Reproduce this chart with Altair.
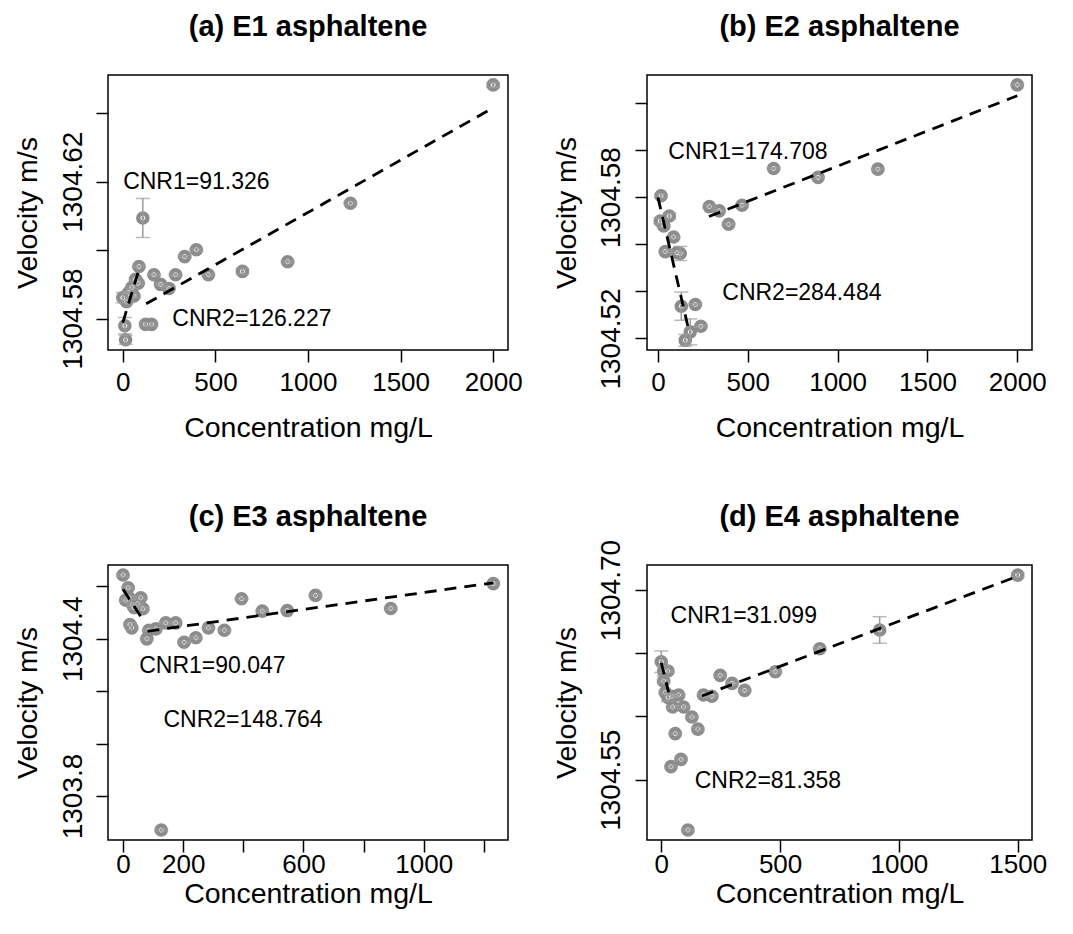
import json
import altair as alt
import pandas as pd

FONT = "Liberation Sans"
PT_COLOR = "#8c8c8c"
ERR_COLOR = "#9c9c9c"

# ---------------- Panel (a) E1 ----------------
A_TITLE = "(a) E1 asphaltene"
A_X = [0, 20, 42, 60, 50, 32, 69, 83, 87, 108, 11, 15, 123, 155, 168, 204, 249, 285, 334, 397, 462, 646, 890, 1229, 2000]
A_Y = [1304.5861, 1304.5849, 1304.5869, 1304.5866, 1304.5891, 1304.5876, 1304.5915, 1304.5903, 1304.5952,
       1304.6094, 1304.5779, 1304.5738, 1304.5783, 1304.5783, 1304.5928, 1304.5900, 1304.5888, 1304.5928,
       1304.5981, 1304.6001, 1304.5928, 1304.5938, 1304.5966, 1304.6137, 1304.6483]
A_ERR = [0.0015, 0.0004, 0.0006, 0.0004, 0.0004, 0.0003, 0.0004, 0.0003, 0.0003,
         0.0057, 0.0024, 0.0013, 0.0005, 0.0005, 0.0003, 0.0003, 0.0003, 0.0003,
         0.0003, 0.0004, 0.0003, 0.0008, 0.0003, 0.0004, 0.0007]
A_FIT1_X = [0, 91]
A_FIT1_Y = [1304.5788, 1304.5950]
A_FIT2_X = [126, 2000]
A_FIT2_Y = [1304.5843, 1304.6416]
A_NOTES = ["CNR1=91.326", "CNR2=126.227"]
A_NOTE_X = [397, 697]
A_NOTE_Y = [1304.6198, 1304.5798]
A_XDOM = [-80, 2080]
A_YDOM = [1304.5708, 1304.6512]
A_XTICKS = [0, 500, 1000, 1500, 2000]
A_XLABELS = ["0", "500", "1000", "1500", "2000"]
A_YTICKS = [1304.58, 1304.60, 1304.62, 1304.64]
A_YLABELS = ["1304.58", "1304.62"]

# ---------------- Panel (b) E2 ----------------
B_TITLE = "(b) E2 asphaltene"
B_X = [17, 13, 32, 63, 41, 87, 106, 124, 130, 208, 152, 180, 239, 286, 341, 393, 468, 644, 891, 1224, 2000]
B_Y = [1304.5806, 1304.5699, 1304.5678, 1304.5720, 1304.5569, 1304.5631, 1304.5564, 1304.5561, 1304.5337,
       1304.5344, 1304.5192, 1304.5228, 1304.5252, 1304.5760, 1304.5742, 1304.5685, 1304.5766, 1304.5922,
       1304.5884, 1304.5919, 1304.6277]
B_ERR = [0.0008, 0.0012, 0.0006, 0.0012, 0.0005, 0.0005, 0.0004, 0.0030, 0.0060,
         0.0005, 0.0025, 0.0055, 0.0004, 0.0005, 0.0004, 0.0004, 0.0004, 0.0004,
         0.0004, 0.0004, 0.0004]
B_FIT1_X = [0, 175]
B_FIT1_Y = [1304.5799, 1304.5224]
B_FIT2_X = [284, 2000]
B_FIT2_Y = [1304.5718, 1304.6231]
B_NOTES = ["CNR1=174.708", "CNR2=284.484"]
B_NOTE_X = [501, 801]
B_NOTE_Y = [1304.5993, 1304.5394]
B_XDOM = [-61, 2082]
B_YDOM = [1304.5151, 1304.6319]
B_XTICKS = [0, 500, 1000, 1500, 2000]
B_XLABELS = ["0", "500", "1000", "1500", "2000"]
B_YTICKS = [1304.52, 1304.54, 1304.56, 1304.58, 1304.60, 1304.62]
B_YLABELS = ["1304.52", "1304.58"]

# ---------------- Panel (c) E3 ----------------
C_TITLE = "(c) E3 asphaltene"
C_X = [0, 17, 9, 20, 31, 37, 59, 48, 66, 23, 29, 79, 86, 109, 142, 175, 203, 242, 284, 337, 394, 463, 546, 640, 890, 1231, 127]
C_Y = [1304.644, 1304.595, 1304.548, 1304.557, 1304.531, 1304.519, 1304.557, 1304.534, 1304.515, 1304.455,
       1304.442, 1304.400, 1304.433, 1304.438, 1304.461, 1304.461, 1304.387, 1304.404, 1304.442, 1304.433,
       1304.553, 1304.506, 1304.508, 1304.566, 1304.516, 1304.611, 1303.670]
C_ERR = [0.005, 0.005, 0.005, 0.005, 0.005, 0.005, 0.005, 0.005, 0.005, 0.006,
         0.006, 0.004, 0.004, 0.004, 0.004, 0.004, 0.004, 0.004, 0.004, 0.004,
         0.004, 0.004, 0.004, 0.004, 0.004, 0.004, 0.004]
C_FIT1_X = [0, 62]
C_FIT1_Y = [1304.589, 1304.480]
C_FIT2_X = [81, 1231]
C_FIT2_Y = [1304.429, 1304.614]
C_NOTES = ["CNR1=90.047", "CNR2=148.764"]
C_NOTE_X = [297, 399]
C_NOTE_Y = [1304.2954, 1304.0912]
C_XDOM = [-50, 1280]
C_YDOM = [1303.632, 1304.682]
C_XTICKS = [0, 200, 400, 600, 800, 1000, 1200]
C_XLABELS = ["0", "200", "600", "1000"]
C_YTICKS = [1303.8, 1304.0, 1304.2, 1304.4, 1304.6]
C_YLABELS = ["1303.8", "1304.4"]

# ---------------- Panel (d) E4 ----------------
D_TITLE = "(d) E4 asphaltene"
D_X = [0, 10, 28, 10, 17, 28, 45, 73, 48, 94, 129, 154, 59, 41, 83, 112, 178, 213, 248, 298, 351, 480, 667, 919, 1500]
D_Y = [1304.6433, 1304.636, 1304.636, 1304.628, 1304.619, 1304.615, 1304.616, 1304.617, 1304.6075, 1304.6075,
       1304.5996, 1304.590, 1304.5864, 1304.5603, 1304.5661, 1304.5102, 1304.617, 1304.616, 1304.6325, 1304.6262,
       1304.6206, 1304.6354, 1304.6536, 1304.6684, 1304.7118]
D_ERR = [0.0085, 0.0040, 0.0010, 0.0010, 0.0010, 0.0030, 0.0010, 0.0010, 0.0010, 0.0010,
         0.0010, 0.0010, 0.0008, 0.0010, 0.0010, 0.0008, 0.0008, 0.0008, 0.0008, 0.0008,
         0.0008, 0.0008, 0.0008, 0.0105, 0.0015]
D_FIT1_X = [0, 31]
D_FIT1_Y = [1304.6425, 1304.619]
D_FIT2_X = [171, 1500]
D_FIT2_Y = [1304.6162, 1304.711]
D_NOTES = ["CNR1=31.099", "CNR2=81.358"]
D_NOTE_X = [347, 449]
D_NOTE_Y = [1304.6794, 1304.549]
D_XDOM = [-60, 1560]
D_YDOM = [1304.5023, 1304.7198]
D_XTICKS = [0, 500, 1000, 1500]
D_XLABELS = ["0", "500", "1000", "1500"]
D_YTICKS = [1304.55, 1304.60, 1304.65, 1304.70]
D_YLABELS = ["1304.55", "1304.70"]


def make_panel(title, xs, ys, errs, f1x, f1y, f2x, f2y, notes, nx, ny,
               xdom, ydom, xticks, xlabels, yticks, ylabels, yfmt, width, ypad, toff, xpad, xtpad):
    pts = pd.DataFrame({"x": xs, "y": ys,
                        "lo": [y - e for y, e in zip(ys, errs)],
                        "hi": [y + e for y, e in zip(ys, errs)]})
    caps = pd.DataFrame({"x": list(xs) + list(xs),
                         "y": list(pts["lo"]) + list(pts["hi"])})
    fits = pd.DataFrame({"x": f1x + f2x, "y": f1y + f2y, "seg": [1, 1, 2, 2]})
    ann = pd.DataFrame({"x": nx, "y": ny, "t": notes})

    xaxis = alt.Axis(values=xticks, format="d",
                     labelExpr=f"indexof({json.dumps(xlabels)}, datum.label) >= 0 ? datum.label : ''",
                     domain=False, grid=False, tickSize=12, tickWidth=1.5, tickColor="black",
                     labelFont=FONT, labelFontSize=26, labelColor="black", labelPadding=xpad,
                     labelBaseline="alphabetic", labelFlush=False, labelOverlap=False,
                     minExtent=50, maxExtent=50, titlePadding=xtpad, titleBaseline="alphabetic",
                     titleFont=FONT, titleFontSize=28.5, titleFontWeight="normal", titleColor="black")
    yaxis = alt.Axis(values=yticks, format=yfmt,
                     labelExpr=f"indexof({json.dumps(ylabels)}, datum.label) >= 0 ? datum.label : ''",
                     domain=False, grid=False, tickSize=12, tickWidth=1.5, tickColor="black",
                     labelFont=FONT, labelFontSize=28, labelColor="black", labelPadding=ypad,
                     labelAngle=-90, labelAlign="center", labelBaseline="alphabetic",
                     labelFlush=False, labelOverlap=False,
                     minExtent=50, maxExtent=50, titlePadding=22, titleBaseline="alphabetic",
                     titleFont=FONT, titleFontSize=28.5, titleFontWeight="normal", titleColor="black")

    def X():
        return alt.X("x:Q", scale=alt.Scale(domain=xdom, nice=False, zero=False),
                     axis=xaxis, title="Concentration mg/L")

    def Y(field):
        return alt.Y(f"{field}:Q", scale=alt.Scale(domain=ydom, nice=False, zero=False),
                     axis=yaxis, title="Velocity m/s")

    circles = alt.Chart(pts).mark_circle(size=185, color=PT_COLOR, opacity=1).encode(x=X(), y=Y("y"))
    inner = alt.Chart(pts).mark_point(shape="circle", filled=False, size=16, color="white",
                                      strokeWidth=1, opacity=1).encode(x=X(), y=Y("y"))
    rules = alt.Chart(pts).mark_rule(color=ERR_COLOR, strokeWidth=1.5).encode(x=X(), y=Y("lo"), y2="hi:Q")
    capl = alt.Chart(caps).mark_tick(orient="horizontal", size=14, thickness=1.5,
                                     color=ERR_COLOR).encode(x=X(), y=Y("y"))
    fitl = alt.Chart(fits).mark_line(color="black", strokeDash=[12, 8], strokeWidth=2.8).encode(
        x=X(), y=Y("y"), detail="seg:N")
    txt = alt.Chart(ann).mark_text(font=FONT, fontSize=23, color="black", align="center",
                                   baseline="middle").encode(x=X(), y=Y("y"), text="t:N")
    return alt.layer(circles, inner, rules, capl, fitl, txt).properties(
        width=width, height=275,
        title=alt.TitleParams(text=title, font=FONT, fontSize=29, fontWeight="bold", color="black",
                              anchor="middle", baseline="alphabetic", offset=toff))


pa = make_panel(A_TITLE, A_X, A_Y, A_ERR, A_FIT1_X, A_FIT1_Y, A_FIT2_X, A_FIT2_Y, A_NOTES, A_NOTE_X, A_NOTE_Y,
                A_XDOM, A_YDOM, A_XTICKS, A_XLABELS, A_YTICKS, A_YLABELS, ".2f", 400, 15, 10, 28, 36)
pb = make_panel(B_TITLE, B_X, B_Y, B_ERR, B_FIT1_X, B_FIT1_Y, B_FIT2_X, B_FIT2_Y, B_NOTES, B_NOTE_X, B_NOTE_Y,
                B_XDOM, B_YDOM, B_XTICKS, B_XLABELS, B_YTICKS, B_YLABELS, ".2f", 385, 16, 10, 28, 36)
pc = make_panel(C_TITLE, C_X, C_Y, C_ERR, C_FIT1_X, C_FIT1_Y, C_FIT2_X, C_FIT2_Y, C_NOTES, C_NOTE_X, C_NOTE_Y,
                C_XDOM, C_YDOM, C_XTICKS, C_XLABELS, C_YTICKS, C_YLABELS, ".1f", 400, 15, 10, 20, 12)
pd_ = make_panel(D_TITLE, D_X, D_Y, D_ERR, D_FIT1_X, D_FIT1_Y, D_FIT2_X, D_FIT2_Y, D_NOTES, D_NOTE_X, D_NOTE_Y,
                 D_XDOM, D_YDOM, D_XTICKS, D_XLABELS, D_YTICKS, D_YLABELS, ".2f", 385, 16, -16, 20, 12)

chart = alt.concat(pa, pb, pc, pd_, columns=2, spacing={"row": 215, "column": 139}, bounds="flush").properties(
    padding={"left": 4, "top": 4, "right": 5, "bottom": 5}
).configure(background="white").configure_view(stroke="black", strokeWidth=1.5)

chart.save("out.html", embed_options={"renderer": "svg", "actions": False})
